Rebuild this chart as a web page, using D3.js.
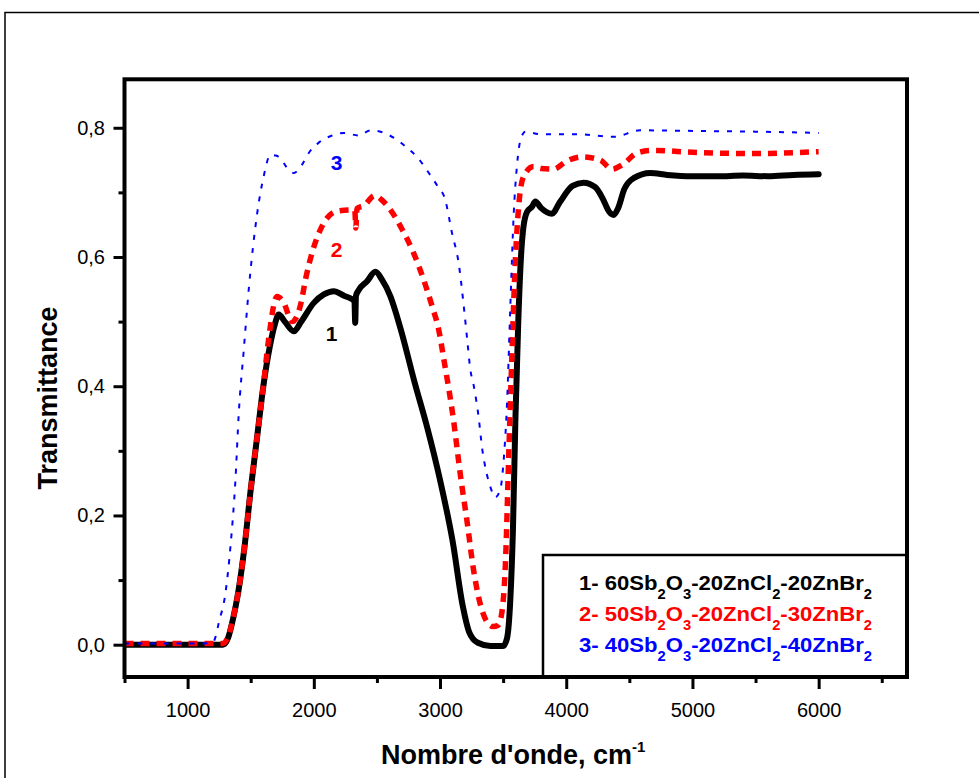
<!DOCTYPE html>
<html>
<head>
<meta charset="utf-8">
<script src="https://cdn.jsdelivr.net/npm/d3@7/dist/d3.min.js"></script>
<style>
  body { margin: 0; background: #fff; }
  svg text { font-family: "Liberation Sans", Arial, sans-serif; }
</style>
</head>
<body>
<svg id="chart" width="979" height="778"></svg>
<script>
// série 1 : 60Sb2O3-20ZnCl2-20ZnBr2
const wn1 = [500, 800, 1100, 1280, 1320, 1360, 1400, 1450, 1500, 1550, 1600, 1650, 1690, 1722, 1770, 1841, 1900, 2000, 2080, 2158, 2240, 2300, 2322, 2328, 2334, 2360, 2420, 2488, 2540, 2607, 2686, 2800, 2900, 3000, 3100, 3180, 3230, 3300, 3400, 3500, 3531, 3557, 3578, 3597, 3620, 3640, 3660, 3690, 3730, 3755, 3800, 3887, 3950, 4050, 4138, 4230, 4290, 4340, 4375, 4410, 4460, 4534, 4666, 4800, 5000, 5200, 5400, 5600, 5800, 6000];
const tr1 = [0.0, 0.0, 0.0, 0.0, 0.01, 0.04, 0.08, 0.15, 0.24, 0.32, 0.40, 0.46, 0.495, 0.511, 0.50, 0.485, 0.50, 0.529, 0.542, 0.547, 0.540, 0.535, 0.532, 0.498, 0.540, 0.550, 0.562, 0.577, 0.565, 0.539, 0.49, 0.405, 0.335, 0.255, 0.16, 0.06, 0.02, 0.003, -0.002, -0.002, 0.01, 0.07, 0.18, 0.347, 0.50, 0.595, 0.645, 0.67, 0.678, 0.686, 0.676, 0.667, 0.685, 0.71, 0.715, 0.708, 0.69, 0.67, 0.665, 0.675, 0.705, 0.722, 0.730, 0.727, 0.725, 0.725, 0.726, 0.725, 0.727, 0.728];

// série 2 : 50Sb2O3-20ZnCl2-30ZnBr2
const wn2 = [500, 800, 1100, 1280, 1320, 1360, 1400, 1450, 1500, 1550, 1600, 1640, 1709, 1760, 1828, 1870, 1900, 1934, 1987, 2066, 2185, 2300, 2325, 2333, 2342, 2400, 2482, 2540, 2607, 2699, 2791, 2870, 2937, 2989, 3029, 3108, 3161, 3214, 3267, 3333, 3380, 3420, 3460, 3490, 3518, 3544, 3571, 3597, 3623, 3663, 3742, 3800, 3900, 4000, 4125, 4270, 4362, 4454, 4560, 4692, 5000, 5500, 6000];
const tr2 = [0.002, 0.002, 0.002, 0.002, 0.012, 0.04, 0.08, 0.15, 0.24, 0.32, 0.40, 0.47, 0.539, 0.53, 0.50, 0.51, 0.53, 0.565, 0.607, 0.648, 0.671, 0.673, 0.672, 0.645, 0.675, 0.68, 0.695, 0.688, 0.673, 0.643, 0.606, 0.565, 0.524, 0.488, 0.443, 0.346, 0.263, 0.191, 0.114, 0.053, 0.033, 0.028, 0.03, 0.05, 0.125, 0.29, 0.457, 0.595, 0.678, 0.725, 0.74, 0.737, 0.736, 0.748, 0.755, 0.75, 0.736, 0.744, 0.761, 0.765, 0.762, 0.760, 0.763];

// série 3 : 40Sb2O3-20ZnCl2-40ZnBr2
const wn3 = [500, 800, 1100, 1200, 1221, 1247, 1300, 1340, 1379, 1405, 1445, 1485, 1551, 1603, 1656, 1700, 1735, 1788, 1841, 1907, 1960, 2039, 2145, 2237, 2356, 2448, 2541, 2646, 2739, 2826, 2897, 2976, 3042, 3095, 3148, 3187, 3214, 3240, 3267, 3306, 3333, 3372, 3399, 3438, 3478, 3504, 3531, 3557, 3584, 3610, 3636, 3676, 3795, 4085, 4375, 4587, 5062, 5500, 6000];
const tr3 = [0.002, 0.002, 0.002, 0.003, 0.012, 0.034, 0.08, 0.153, 0.255, 0.357, 0.456, 0.551, 0.667, 0.725, 0.758, 0.757, 0.753, 0.738, 0.730, 0.743, 0.761, 0.777, 0.788, 0.792, 0.788, 0.796, 0.793, 0.783, 0.769, 0.753, 0.734, 0.711, 0.688, 0.637, 0.59, 0.526, 0.475, 0.426, 0.401, 0.352, 0.305, 0.263, 0.244, 0.228, 0.241, 0.285, 0.374, 0.523, 0.667, 0.742, 0.78, 0.794, 0.79, 0.79, 0.786, 0.796, 0.795, 0.794, 0.792];

const xTicks = [1000, 2000, 3000, 4000, 5000, 6000];
const xMinor = [500, 1500, 2500, 3500, 4500, 5500, 6500];
const yTicks = [0, 0.2, 0.4, 0.6, 0.8];
const yMinor = [0.1, 0.3, 0.5, 0.7];

// étiquettes : morceaux alternés normal / indice
const legendParts = [
    ["1- 60Sb", "2", "O", "3", "-20ZnCl", "2", "-20ZnBr", "2"],
    ["2- 50Sb", "2", "O", "3", "-20ZnCl", "2", "-30ZnBr", "2"],
    ["3- 40Sb", "2", "O", "3", "-20ZnCl", "2", "-40ZnBr", "2"]
];
const curveLabels = ["1", "2", "3"];
const colors = ["#000000", "#ff0000", "#0000ff"];

const svg = d3.select("#chart");
const L = 124.5, R = 907, T = 79.3, B = 677;

const x = d3.scaleLinear().domain([500, 6700]).range([L, R]);
const y = d3.scaleLinear().domain([-0.05, 0.875]).range([B, T]);

// cadre extérieur
svg.append("rect").attr("x", 5).attr("y", 12.5).attr("width", 1000).attr("height", 1000)
    .attr("fill", "none").attr("stroke", "#000").attr("stroke-width", 1.5);

svg.append("defs").append("clipPath").attr("id", "clip")
    .append("rect").attr("x", L).attr("y", T).attr("width", R - L).attr("height", B - T);

// axes
const gx = svg.append("g").attr("transform", "translate(0," + B + ")")
    .call(d3.axisBottom(x).tickValues(xTicks).tickSize(12).tickPadding(14).tickFormat(d3.format("d")));
const gxm = svg.append("g").attr("transform", "translate(0," + B + ")")
    .call(d3.axisBottom(x).tickValues(xMinor).tickSize(6).tickFormat(""));
const gy = svg.append("g").attr("transform", "translate(" + L + ",0)")
    .call(d3.axisLeft(y).tickValues(yTicks).tickSize(11).tickPadding(8.5)
        .tickFormat(d => d3.format(".1f")(d).replace(".", ",")));
const gym = svg.append("g").attr("transform", "translate(" + L + ",0)")
    .call(d3.axisLeft(y).tickValues(yMinor).tickSize(6).tickFormat(""));

[gx, gxm, gy, gym].forEach(g => {
    g.select(".domain").remove();
    g.selectAll(".tick line").attr("stroke", "#000").attr("stroke-width", 3);
    g.selectAll(".tick text").attr("font-size", 20).attr("fill", "#000");
});

// courbes
const series = [[wn1, tr1], [wn2, tr2], [wn3, tr3]];
const line = d3.line().x(d => x(d[0])).y(d => y(d[1])).curve(d3.curveMonotoneX);
const plot = svg.append("g").attr("clip-path", "url(#clip)");

series.forEach(function(s, i) {
    const pts = s[0].map((w, k) => [w, s[1][k]]);
    const p = plot.append("path").datum(pts).attr("d", line)
        .attr("fill", "none").attr("stroke", colors[i]);
    if (i == 0) {
        p.attr("stroke-width", 6).attr("stroke-linejoin", "round").attr("stroke-linecap", "round");
    } else if (i == 1) {
        p.attr("stroke-width", 5.5).attr("stroke-dasharray", "9,7");
    } else {
        p.attr("stroke-width", 2).attr("stroke-dasharray", "5,8");
    }
});

// étiquettes des courbes
const labelPos = [[2140, 0.47], [2180, 0.60], [2180, 0.735]];
labelPos.forEach(function(d, i) {
    svg.append("text").attr("x", x(d[0])).attr("y", y(d[1]))
        .attr("text-anchor", "middle").attr("font-size", 21).attr("font-weight", "bold")
        .attr("fill", colors[i]).text(curveLabels[i]);
});

// légende
svg.append("rect").attr("x", 543).attr("y", 555).attr("width", R - 543).attr("height", B - 555)
    .attr("fill", "#fff").attr("stroke", "#000").attr("stroke-width", 2.5);

legendParts.forEach(function(parts, i) {
    const t = svg.append("text").attr("x", 579).attr("y", 590 + i * 31)
        .attr("font-size", 21).attr("font-weight", "bold").attr("fill", colors[i]);
    parts.forEach(function(p, k) {
        const ts = t.append("tspan").text(p);
        if (k % 2 == 1) {
            ts.attr("font-size", 14).attr("dy", 9);
        } else if (k > 0) {
            ts.attr("dy", -9);
        }
    });
    const w = t.node().getComputedTextLength();
    if (Math.abs(w - 293) > 3) t.attr("textLength", 293).attr("lengthAdjust", "spacingAndGlyphs");
});

// cadre du graphe
svg.append("rect").attr("x", L).attr("y", T).attr("width", R - L).attr("height", B - T)
    .attr("fill", "none").attr("stroke", "#000").attr("stroke-width", 4);

// titres
const xt = svg.append("text").attr("x", 381).attr("y", 764)
    .attr("font-size", 27).attr("font-weight", "bold").attr("fill", "#000");
xt.append("tspan").text("Nombre d'onde, cm");
xt.append("tspan").attr("font-size", 15).attr("dy", -12).text("-1");

svg.append("text").attr("transform", "translate(56.7,398) rotate(-90)")
    .attr("text-anchor", "middle").attr("font-size", 27).attr("font-weight", "bold")
    .attr("fill", "#000").text("Transmittance");
</script>
</body>
</html>
